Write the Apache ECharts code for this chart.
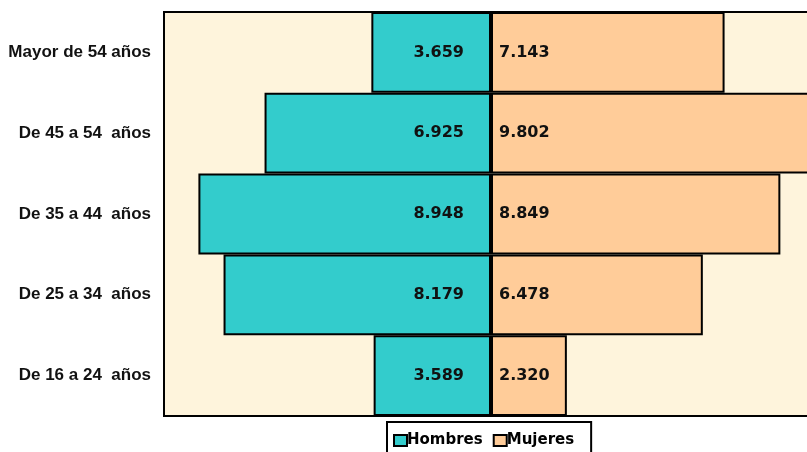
<!DOCTYPE html>
<html><head><meta charset="utf-8">
<script src="https://cdn.jsdelivr.net/npm/echarts@6/dist/echarts.min.js"></script>
<style>html,body{margin:0;padding:0;background:#fff;overflow:hidden}#c{width:818px;height:452px}</style>
</head><body><div id="c"></div>
<script>
const categories = ['De 16 a 24  años', 'De 25 a 34  años', 'De 35 a 44  años', 'De 45 a 54  años', 'Mayor de 54 años'];
const hombres = [3589, 8179, 8948, 6925, 3659];
const mujeres = [2320, 6478, 8849, 9802, 7143];
const seriesNames = ['Hombres', 'Mujeres'];

const fmt = v => (Math.abs(v) / 1000).toFixed(3);
const chart = echarts.init(document.getElementById('c'));
chart.setOption({
  animation: false,
  backgroundColor: '#fff',
  grid: { left: 164, top: 12, bottom: 36, right: 0, show: true, backgroundColor: '#FEF4DC', borderColor: '#000', borderWidth: 2 },
  xAxis: { type: 'value', min: -10000, max: 10000, show: false },
  yAxis: {
    type: 'category', data: categories,
    axisLine: { show: false }, axisTick: { show: false },
    axisLabel: { fontFamily: 'Liberation Sans, Arial', fontWeight: 'bold', fontSize: 17, color: '#111', margin: 13 }
  },
  legend: {
    data: seriesNames, left: 387, top: 422, orient: 'horizontal',
    backgroundColor: '#fff', borderColor: '#000', borderWidth: 2, borderRadius: 0,
    padding: [11, 17, 12, 6], itemGap: 10, itemWidth: 13, itemHeight: 11, icon: 'rect',
    textStyle: { fontFamily: 'DejaVu Sans', fontWeight: 'bold', fontSize: 15, color: '#000', padding: [0, 0, 0, -5] }
  },
  series: [
    { name: 'Hombres', type: 'bar', data: hombres.map(v => -v), barCategoryGap: 0, barGap: '-100%',
      itemStyle: { color: '#33CCCC', borderColor: '#000', borderWidth: 2 },
      label: { show: true, position: 'insideRight', distance: 27, formatter: p => fmt(p.value),
        fontFamily: 'DejaVu Sans', fontWeight: 'bold', fontSize: 16, color: '#111' } },
    { name: 'Mujeres', type: 'bar', data: mujeres, barCategoryGap: 0, barGap: '-100%',
      itemStyle: { color: '#FFCC99', borderColor: '#000', borderWidth: 2 },
      label: { show: true, position: 'insideLeft', distance: 8, formatter: p => fmt(p.value),
        fontFamily: 'DejaVu Sans', fontWeight: 'bold', fontSize: 16, color: '#111' } }
  ]
});
</script></body></html>
